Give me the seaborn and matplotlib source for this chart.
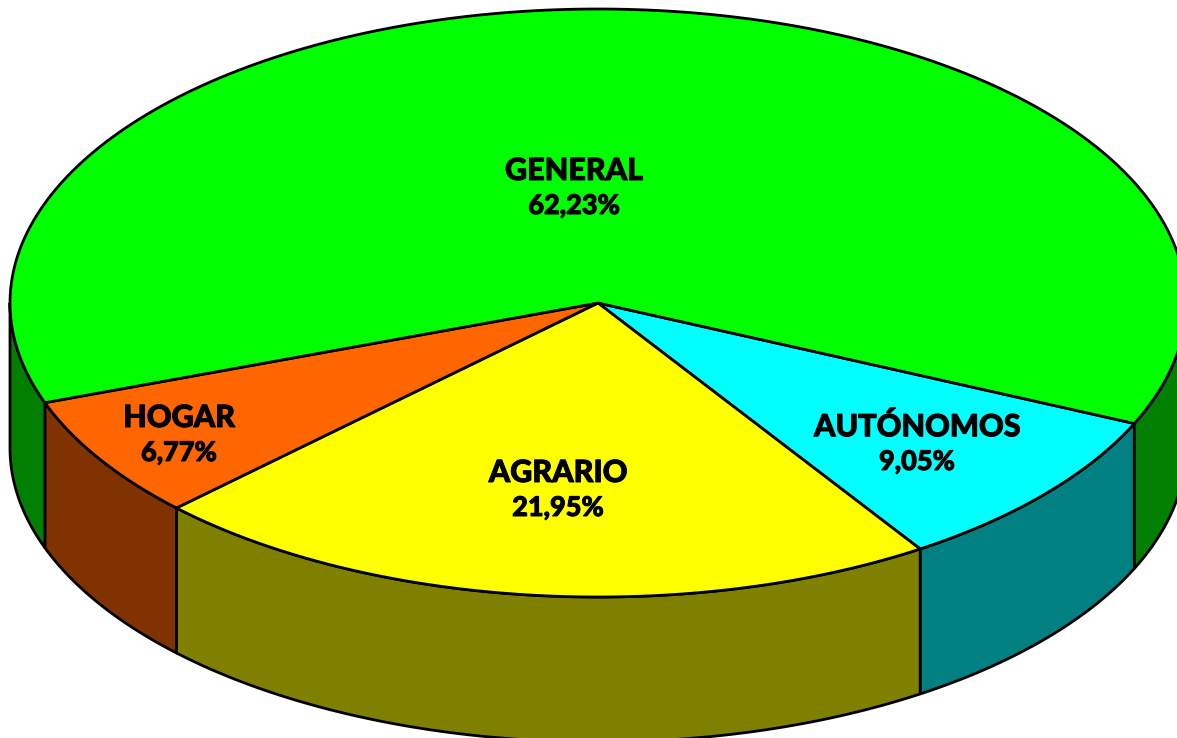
import numpy as np
import matplotlib
matplotlib.use('Agg')
import matplotlib.pyplot as plt
import matplotlib.patheffects as pe
from matplotlib.patches import Polygon
import seaborn as sns

# Data
categories = ['AUTÓNOMOS', 'AGRARIO', 'HOGAR', 'GENERAL']
shares = [9.05, 21.95, 6.77, 62.23]
value_labels = ['9,05%', '21,95%', '6,77%', '62,23%']
top_colors = ['#00FFFF', '#FFFF00', '#FF6600', '#00FF00']
side_colors = ['#008080', '#808000', '#803300', '#007F00']

# Label centres in picture pixels
label_x = [917, 558, 179, 574]
label_y = [427, 473, 418, 171]

sns.set_theme(style='white')
plt.rcParams['font.family'] = ['Lato', 'DejaVu Sans']

# Pie geometry in picture pixels
cx, cy = 598, 303
rx, ry = 588, 294
depth = 145
start_angle = 24.2


def rim(t_from, t_to):
    t = np.radians(np.linspace(t_from, t_to, 200))
    return np.column_stack([cx + rx * np.cos(t), cy + ry * np.sin(t)])


fig = plt.figure(figsize=(11.77, 7.38), dpi=100)
ax = fig.add_axes([0, 0, 1, 1])
ax.set_xlim(0, 1177)
ax.set_ylim(738, 0)
ax.axis('off')

lw = 2.0
bounds = start_angle + np.concatenate([[0], np.cumsum(shares)]) * 3.6

# Side walls, only the part of each slice facing the viewer
for i in range(len(shares)):
    for turn in (0, -360):
        t0 = max(bounds[i] + turn, 0)
        t1 = min(bounds[i + 1] + turn, 180)
        if t1 <= t0:
            continue
        upper = rim(t0, t1)
        lower = (upper + [0, depth])[::-1]
        ax.add_patch(Polygon(np.vstack([upper, lower]), closed=True, fc=side_colors[i],
                             ec='black', lw=lw, joinstyle='round', zorder=2))

# Top face
for i in range(len(shares)):
    pts = np.vstack([[[cx, cy]], rim(bounds[i], bounds[i + 1])])
    ax.add_patch(Polygon(pts, closed=True, fc=top_colors[i], ec='black', lw=lw,
                         joinstyle='round', zorder=3))

# Labels, thickened a little since the original face is heavier than Lato Black
heavy = [pe.withStroke(linewidth=0.7, foreground='black')]
for name, val, x, y in zip(categories, value_labels, label_x, label_y):
    ax.text(x, y, name, ha='center', va='center', fontsize=22, fontweight='black',
            color='black', zorder=4, path_effects=heavy)
    ax.text(x, y + 35, val, ha='center', va='center', fontsize=19.5, fontweight='black',
            color='black', zorder=4, path_effects=heavy)

fig.savefig('out.png', dpi=100)
